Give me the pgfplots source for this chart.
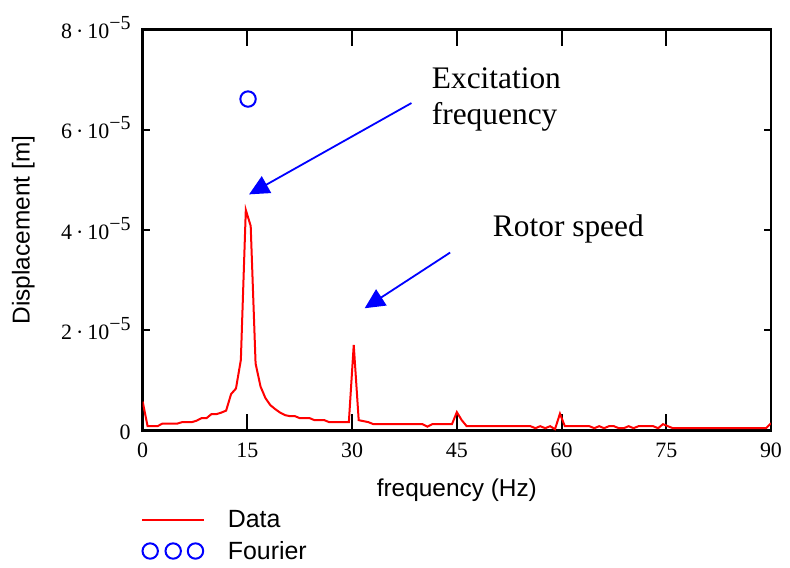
\documentclass[border=0pt]{standalone}
\usepackage{fontspec}
\setmainfont{Liberation Serif}
\setsansfont{Liberation Sans}
\usepackage{pgfplots}
\usepackage{pgfplotstable}
\pgfplotsset{compat=1.18}
\usetikzlibrary{arrows.meta}

\pgfplotstableread{
x y
0.00 0.58
0.70 0.09
1.41 0.09
2.11 0.09
2.81 0.14
3.52 0.14
4.22 0.14
4.92 0.14
5.63 0.17
6.33 0.17
7.03 0.17
7.73 0.20
8.44 0.25
9.14 0.25
9.84 0.33
10.55 0.33
11.25 0.36
11.95 0.40
12.66 0.73
13.36 0.84
14.06 1.41
14.77 4.40
15.47 4.08
16.17 1.34
16.88 0.88
17.58 0.65
18.28 0.51
18.98 0.43
19.69 0.36
20.39 0.31
21.09 0.29
21.80 0.29
22.50 0.25
23.20 0.25
23.91 0.25
24.61 0.21
25.31 0.21
26.02 0.21
26.72 0.17
27.42 0.17
28.13 0.17
28.83 0.17
29.53 0.17
30.23 1.71
30.94 0.21
31.64 0.19
32.34 0.17
33.05 0.13
33.75 0.13
34.45 0.13
35.16 0.13
35.86 0.13
36.56 0.13
37.27 0.13
37.97 0.13
38.67 0.13
39.38 0.13
40.08 0.13
40.78 0.08
41.48 0.13
42.19 0.13
42.89 0.13
43.59 0.13
44.30 0.13
45.00 0.37
45.70 0.21
46.41 0.09
47.11 0.09
47.81 0.09
48.52 0.09
49.22 0.09
49.92 0.09
50.63 0.09
51.33 0.09
52.03 0.09
52.73 0.09
53.44 0.09
54.14 0.09
54.84 0.09
55.55 0.09
56.25 0.05
56.95 0.09
57.66 0.05
58.36 0.09
59.06 0.03
59.77 0.34
60.47 0.09
61.17 0.09
61.88 0.09
62.58 0.09
63.28 0.09
63.98 0.09
64.69 0.05
65.39 0.09
66.09 0.05
66.80 0.09
67.50 0.09
68.20 0.05
68.91 0.05
69.61 0.09
70.31 0.05
71.02 0.09
71.72 0.09
72.42 0.09
73.13 0.09
73.83 0.05
74.53 0.13
75.23 0.09
75.94 0.05
76.64 0.05
77.34 0.05
78.05 0.05
78.75 0.05
79.45 0.05
80.16 0.05
80.86 0.05
81.56 0.05
82.27 0.05
82.97 0.05
83.67 0.05
84.38 0.05
85.08 0.05
85.78 0.05
86.48 0.05
87.19 0.05
87.89 0.05
88.59 0.05
89.30 0.05
90.00 0.15
}\datatable

\newcommand{\expo}[1]{#1\hspace{4bp}·\hspace{4bp}10\raisebox{9bp}[0pt][0pt]{\fontsize{20}{20}\selectfont −5}\hspace{16bp}}

\begin{document}
\begin{tikzpicture}
\begin{axis}[
  at={(0,0)}, anchor=south west,
  scale only axis, width=628.3bp, height=401.4bp,
  xmin=0, xmax=90, ymin=0, ymax=8,
  axis line style={line width=2.5bp, black},
  xtick={0,15,30,45,60,75,90},
  xticklabels={0,15,30,45,60,75,90},
  ytick={0,2,4,6,8},
  yticklabels={0,\expo{2},\expo{4},\expo{6},\expo{8}},
  tick align=inside,
  xtick style={line width=2bp, black, /pgfplots/major tick length=17bp},
  ytick style={line width=2bp, black, /pgfplots/major tick length=7bp},
  tick label style={font=\fontsize{22}{22}\selectfont, inner sep=0pt},
  xticklabel style={anchor=north, yshift=-12bp},
  yticklabel style={anchor=east, xshift=-12bp, yshift=-2bp},
  xlabel={frequency (Hz)},
  ylabel={Displacement [m]},
  label style={font=\sffamily\fontsize{24.5}{24.5}\selectfont, inner sep=0pt},
  xlabel style={at={(axis description cs:0.5,-0.165)}, anchor=base},
  ylabel style={at={(axis description cs:-0.18,0.5)}, anchor=base},
  legend style={at={(axis description cs:-0.0027,-0.1986)}, anchor=north west,
    draw=none, fill=none, inner sep=0pt, column sep=0pt, row sep=12bp,
    nodes={inner sep=0pt},
    font=\sffamily\fontsize{25}{25}\selectfont},
  legend cell align=left,
]
\addplot[red, line width=2bp,
  legend image code/.code={\draw[red, line width=2bp] (0bp,0bp) -- (62bp,0bp); \path[draw=none, fill=none] (0bp,-5.2bp) rectangle (85.7bp,0bp);}]
  table[x=x, y=y] {\datatable};
\addlegendentry{Data}
\addplot[blue, only marks, mark=o, mark size=7.7bp, line width=2bp,
  legend image code/.code={\draw[blue, line width=2bp] (8bp,0bp) circle (7.7bp) (31bp,0bp) circle (7.7bp) (53.3bp,0bp) circle (7.7bp); \path[draw=none, fill=none] (0bp,0bp) rectangle (85.7bp,0bp);}]
  coordinates {(15.09,6.61)};
\addlegendentry{Fourier}

\draw[blue, line width=1.8bp, -{Triangle[length=20bp, width=19bp]}] (axis cs:38.5,6.53) -- (axis cs:15.24,4.71);
\draw[blue, line width=1.8bp, -{Triangle[length=20bp, width=19bp]}] (axis cs:44.04,3.55) -- (axis cs:31.79,2.44);
\node[anchor=base west, inner sep=0pt, font=\fontsize{31.5}{31.5}\selectfont] at (axis cs:41.4,6.82) {Excitation};
\node[anchor=base west, inner sep=0pt, font=\fontsize{31.5}{31.5}\selectfont] at (axis cs:41.4,6.10) {frequency};
\node[anchor=base west, inner sep=0pt, font=\fontsize{31.5}{31.5}\selectfont] at (axis cs:50.15,3.88) {Rotor speed};
\end{axis}
\pgfresetboundingbox
\path (-142.7bp,-137.3bp) rectangle (647.3bp,430.7bp);
\end{tikzpicture}
\end{document}
